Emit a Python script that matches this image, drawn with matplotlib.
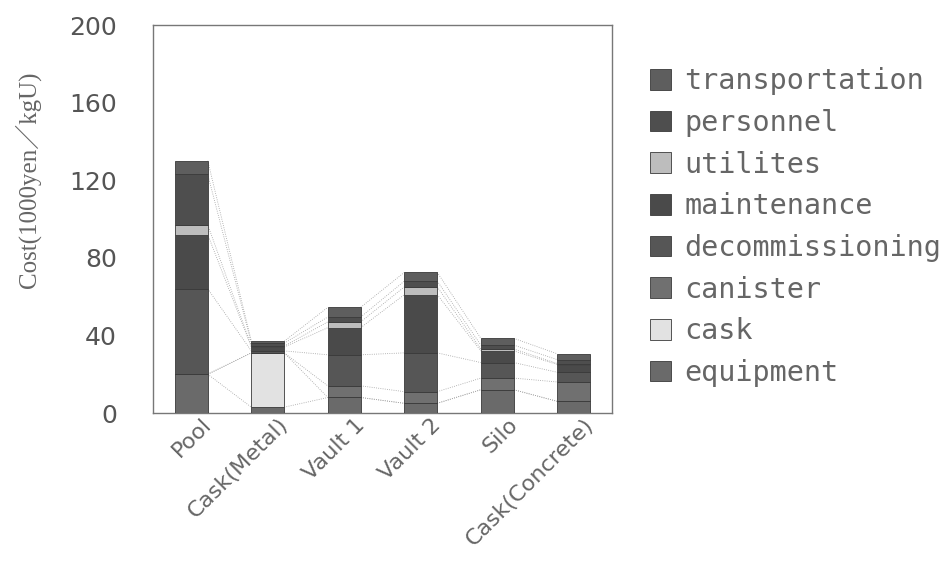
import numpy as np
import matplotlib
matplotlib.use("Agg")
import matplotlib.pyplot as plt
from matplotlib.transforms import ScaledTranslation

# Storage options and cost breakdown (1000 yen / kgU), stacked bottom to top
categories = ['Pool', 'Cask(Metal)', 'Vault 1', 'Vault 2', 'Silo', 'Cask(Concrete)']
series = ['equipment', 'cask', 'canister', 'decommissioning',
          'maintenance', 'utilites', 'personnel', 'transportation']

equipment       = [20, 3, 8, 5, 12, 6]
cask            = [0, 28, 0, 0, 0, 0]
canister        = [0, 0, 6, 6, 6, 10]
decommissioning = [44, 1, 16, 20, 8, 5]
maintenance     = [28, 2, 14, 30, 6, 4]
utilites        = [5, 0.5, 3, 4, 1, 0.5]
personnel       = [26, 1.5, 2.5, 3, 2, 2]
transportation  = [7, 1, 5, 4.5, 3.5, 3]

values = [equipment, cask, canister, decommissioning,
          maintenance, utilites, personnel, transportation]
colors = ['#6a6a6a', '#e2e2e2', '#707070', '#565656',
          '#4a4a4a', '#bdbdbd', '#4e4e4e', '#5e5e5e']

fig = plt.figure(figsize=(9.47, 5.66), dpi=100)
ax = fig.add_axes([0.1616, 0.2703, 0.4847, 0.6855])

x = np.arange(len(categories))
width = 0.43
bottom = np.zeros(len(categories))
handles = []
for name, vals, col in zip(series, values, colors):
    vals = np.array(vals, dtype=float)
    h = ax.bar(x, vals, width, bottom=bottom, color=col, edgecolor='#3a3a3a',
               linewidth=0.6, label=name, zorder=3)
    handles.append(h)
    bottom = bottom + vals
    # series lines between neighbouring bars
    for i in range(len(categories) - 1):
        ax.plot([x[i] + width / 2, x[i + 1] - width / 2], [bottom[i], bottom[i + 1]],
                color='#a0a0a0', linewidth=0.6, linestyle=':', zorder=2)

ax.set_xlim(-0.5, len(categories) - 0.5)
ax.set_ylim(0, 200)
ax.set_yticks(np.arange(0, 201, 40))
ax.tick_params(axis='y', length=0, pad=26, labelsize=18, labelcolor='#555555')
ax.tick_params(axis='x', length=0, pad=1)
ax.set_xticks(x)
ax.set_xticklabels(categories, rotation=45, ha='right', rotation_mode='anchor',
                   fontsize=16, color='#666666')
shift = ScaledTranslation(0.1, 0, fig.dpi_scale_trans)
for lbl in ax.get_xticklabels():
    lbl.set_transform(lbl.get_transform() + shift)
for s in ax.spines.values():
    s.set_color('#777777')
    s.set_linewidth(1.0)

fig.text(0.0296, 0.682, 'Cost(1000yen／kgU)', rotation=90, ha='center', va='center',
         family=['Liberation Serif', 'Noto Sans CJK JP'], fontsize=18, color='#666666')

leg = ax.legend(handles[::-1], series[::-1], loc='center left',
                bbox_to_anchor=(1.083, 0.479), frameon=False,
                prop={'family': 'DejaVu Sans Mono', 'size': 20.5},
                handlelength=0.75, handleheight=0.75, handletextpad=0.45,
                labelspacing=0.48, borderpad=0, borderaxespad=0)
for t in leg.get_texts():
    t.set_color('#666666')

fig.savefig('out.png', dpi=100)
